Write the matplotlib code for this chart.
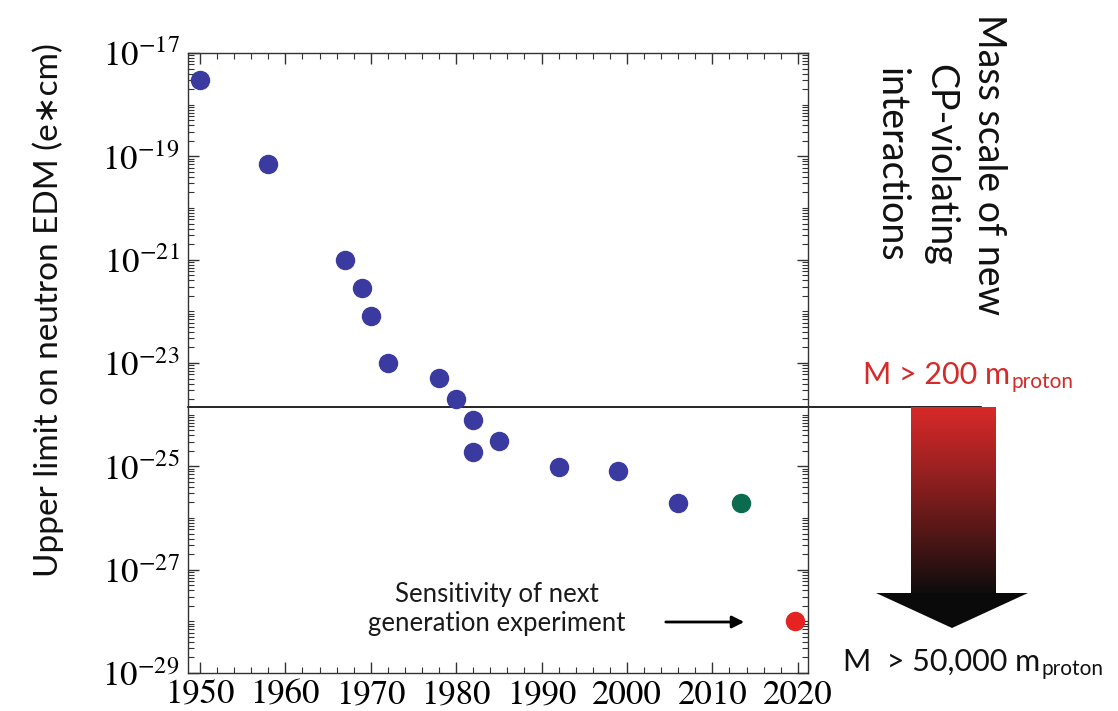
import numpy as np
import matplotlib
matplotlib.use("Agg")
import matplotlib.pyplot as plt
from matplotlib.ticker import FixedLocator, FixedFormatter
from matplotlib.patches import Polygon

# ---- data ----
years = [1950, 1958, 1967, 1969, 1970, 1972, 1978, 1980, 1982, 1982, 1985, 1992, 1999, 2006]
edm_limits = [3.0e-18, 7.1e-20, 1.0e-21, 2.8e-22, 8.1e-23, 1.0e-23, 5.1e-24, 2.0e-24,
              7.9e-25, 1.9e-25, 3.1e-25, 9.8e-26, 8.1e-26, 1.95e-26]
current_year = [2013.3]
current_limit = [1.95e-26]
next_year = [2019.7]
next_limit = [1.0e-28]
threshold = 1.4e-24

x_major = [1950, 1960, 1970, 1980, 1990, 2000, 2010, 2020]
x_labels = ["1950", "1960", "1970", "1980", "1990", "2000", "2010", "2020"]
y_exps = [-17, -19, -21, -23, -25, -27, -29]
y_labels = [r"$10^{%d}$" % e for e in y_exps]

plt.rcParams["mathtext.fontset"] = "stix"
sans = ["Lato", "DejaVu Sans"]

fig = plt.figure(figsize=(11.18, 7.11), dpi=100)
ax = fig.add_axes([188/1118, 1 - 673/711, (808-188)/1118, (673-53)/711])

ax.set_yscale("log")
ax.set_xlim(1948.6, 2021.2)
ax.set_ylim(1e-29, 1e-17)

ax.plot(years, edm_limits, "o", color="#3a3aa0", ms=13, zorder=3)
ax.plot(current_year, current_limit, "o", color="#0b6b4f", ms=13, zorder=3)
ax.plot(next_year, next_limit, "o", color="#e62323", ms=13, zorder=3)

# threshold line extending past the axes
ax.plot([1948.6, 2041.5], [threshold, threshold], color="black", lw=1.2,
        clip_on=False, zorder=2)

# ticks
ax.xaxis.set_major_locator(FixedLocator(x_major))
ax.xaxis.set_major_formatter(FixedFormatter(x_labels))
ax.xaxis.set_minor_locator(FixedLocator(np.arange(1948, 2022, 2)))
ax.yaxis.set_major_locator(FixedLocator([10.0**e for e in y_exps]))
ax.yaxis.set_major_formatter(FixedFormatter(y_labels))
minors = [k * 10.0**d for d in range(-29, -17) for k in range(1, 10)]
minors = [m for m in minors if not any(abs(np.log10(m) - e) < 1e-9 for e in y_exps)]
ax.yaxis.set_minor_locator(FixedLocator(minors))
ax.yaxis.set_minor_formatter(FixedFormatter([""] * len(minors)))
ax.tick_params(which="both", direction="in", top=True, right=True, color="#333333")
ax.tick_params(which="major", length=8, width=1)
ax.tick_params(which="minor", length=4, width=0.8)
ax.tick_params(axis="x", labelsize=25, pad=5)
ax.tick_params(axis="y", labelsize=25, pad=6)
for lab in ax.get_xticklabels():
    lab.set_fontfamily("STIXGeneral")
for s in ax.spines.values():
    s.set_color("#333333")
    s.set_linewidth(1.0)

# overlay in pixel coordinates for annotations
ov = fig.add_axes([0, 0, 1, 1], zorder=5)
ov.set_xlim(0, 1118)
ov.set_ylim(711, 0)
ov.axis("off")
ov.patch.set_alpha(0)

ov.text(48, 310, "Upper limit on neutron EDM (e\u2217cm)", rotation=90, ha="center",
        va="center", fontsize=24, family=sans, color="#111111")

# gradient shaft
n = 256
t = np.linspace(0, 1, n)[:, None]
top = np.array([0.84, 0.16, 0.16])
bot = np.array([0.05, 0.05, 0.05])
frac = np.clip(t, 0, 1) ** 1.1
grad = top[None, None, :] * (1 - frac[..., None]) + bot[None, None, :] * frac[..., None]
grad = np.repeat(grad, 2, axis=1)
ov.imshow(grad, extent=[911, 996, 594, 407], aspect="auto", interpolation="bilinear", zorder=1)
ov.add_patch(Polygon([[876, 593], [1028, 593], [952, 628]], closed=True,
                     facecolor="#0a0a0a", edgecolor="none", zorder=2))
ov.set_xlim(0, 1118)
ov.set_ylim(711, 0)

ov.text(940, 165, "Mass scale of new\nCP-violating\ninteractions", rotation=-90,
        ha="center", va="center", fontsize=27, family=sans, linespacing=1.45,
        multialignment="center", color="#111111")

fig.canvas.draw()
renderer = fig.canvas.get_renderer()


def label_with_sub(x, y, main, sub, color, size, subsize, drop):
    t1 = ov.text(x, y, main, color=color, fontsize=size, family=sans, va="baseline")
    bb = t1.get_window_extent(renderer)
    x_end = ov.transData.inverted().transform((bb.x1, bb.y0))[0]
    ov.text(x_end + 1, y + drop, sub, color=color, fontsize=subsize, family=sans, va="baseline")


label_with_sub(863, 384, "M > 200 m", "proton", "#d42a2a", 22, 15, 4)
label_with_sub(843, 671, "M  > 50,000 m", "proton", "#111111", 22, 15, 4)

ov.text(497, 609, "Sensitivity of next\ngeneration experiment", ha="center", va="center",
        fontsize=18.5, family=sans, color="#1a1a1a", linespacing=1.2)
ov.annotate("", xy=(747, 622), xytext=(663, 622),
            arrowprops=dict(arrowstyle="-|>", color="black", lw=2, mutation_scale=18))

fig.savefig("out.png", dpi=100)
